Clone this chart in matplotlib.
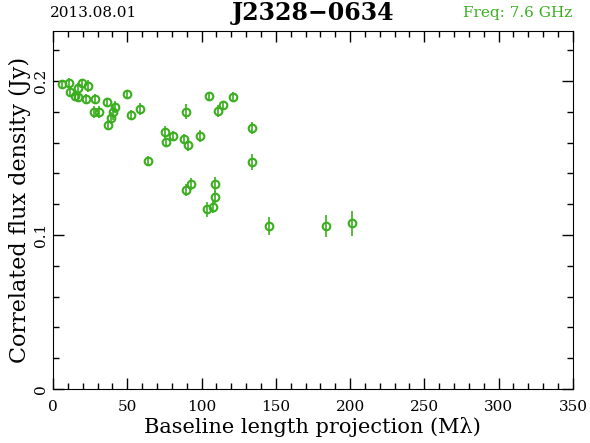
import numpy as np
import matplotlib
matplotlib.use("Agg")
import matplotlib.pyplot as plt
from matplotlib.ticker import MultipleLocator

# DATOS
baseline = [5.9, 10.8, 11.5, 14.8, 16.7, 19.8, 23.8, 17.1, 22.3, 28.3,
            27.8, 31.0, 36.2, 41.8, 40.7, 39.1, 37.3, 49.9, 52.6, 58.7,
            63.9, 75.5, 76.0, 81.1, 89.5, 88.5, 91.2, 98.7, 104.7, 111.1,
            114.4, 121.4, 93.1, 89.7, 108.8, 109.2, 107.9, 103.4, 134.0, 134.2,
            145.4, 183.6, 201.1]
flux = [0.1979, 0.1987, 0.1931, 0.1905, 0.1956, 0.1985, 0.1966, 0.1898, 0.1883, 0.1883,
        0.1797, 0.1797, 0.1862, 0.1831, 0.1797, 0.1758, 0.1714, 0.1914, 0.1779, 0.1818,
        0.1481, 0.1667, 0.1602, 0.1645, 0.1801, 0.1623, 0.1584, 0.1645, 0.1901, 0.1805,
        0.1842, 0.1896, 0.1333, 0.1294, 0.1329, 0.1247, 0.1182, 0.1167, 0.1697, 0.1474,
        0.1058, 0.1058, 0.1076]
flux_err = [0.003, 0.003, 0.003, 0.003, 0.003, 0.003, 0.004, 0.003, 0.003, 0.003,
            0.004, 0.004, 0.003, 0.004, 0.005, 0.004, 0.003, 0.003, 0.003, 0.004,
            0.003, 0.004, 0.003, 0.003, 0.005, 0.003, 0.004, 0.004, 0.003, 0.004,
            0.003, 0.003, 0.004, 0.004, 0.005, 0.004, 0.004, 0.005, 0.004, 0.005,
            0.006, 0.007, 0.008]

date = "2013.08.01"
source = "J2328\u22120634"
freq = "Freq: 7.6 GHz"
green = "#3aaf1e"

# GRAFICO
plt.rcParams["font.family"] = ["DejaVu Serif"]
fig = plt.figure(figsize=(5.9, 4.43), dpi=100)
ax = fig.add_axes([0.0898, 0.1219, 0.8812, 0.8081])

ax.errorbar(baseline, flux, yerr=flux_err, fmt="o", ms=5.5, mfc="none", mec=green,
            mew=1.5, ecolor=green, elinewidth=1.2, capsize=0)

ax.set_xlim(0, 350)
ax.set_ylim(0, 0.2325)
ax.xaxis.set_major_locator(MultipleLocator(50))
ax.xaxis.set_minor_locator(MultipleLocator(10))
ax.yaxis.set_major_locator(MultipleLocator(0.1))
ax.yaxis.set_minor_locator(MultipleLocator(0.02))
ax.set_yticks([0, 0.1, 0.2])
ax.set_yticklabels(["0", "0.1", "0.2"], rotation=90, va="center")
ax.tick_params(which="both", direction="in", top=True, right=True, labelsize=11, width=1)
ax.tick_params(which="major", length=8)
ax.tick_params(which="minor", length=4)
ax.tick_params(axis="x", pad=8)

ax.set_xlabel("Baseline length projection (M\u03bb)", fontsize=15, labelpad=2)
ax.set_ylabel("Correlated flux density (Jy)", fontsize=16, labelpad=2)

fig.text(0.085, 0.97, date, fontsize=11, ha="left", va="center")
fig.text(0.53, 0.97, source, fontsize=17, fontweight="bold", ha="center", va="center")
fig.text(0.97, 0.97, freq, fontsize=11, ha="right", va="center", color=green)

plt.savefig("out.png", dpi=100)
